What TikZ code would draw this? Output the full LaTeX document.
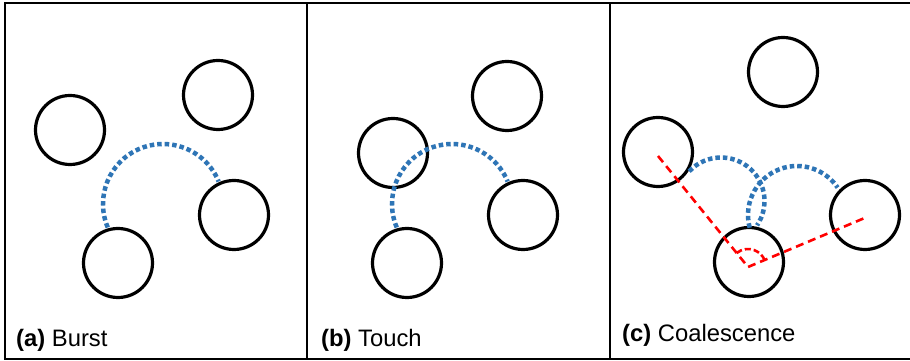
\documentclass[tikz,border=0pt]{standalone}
\usepackage{fontspec}
\setmainfont{Liberation Sans}
\definecolor{dotblue}{RGB}{46,117,182}
\definecolor{dashred}{RGB}{255,0,0}
\tikzset{
  bubble/.style={circle, draw=black, line width=3.2pt, minimum size=69pt, inner sep=0pt},
  bluedot/.style={draw=dotblue, line width=4.5pt, dash pattern=on 4.5pt off 3pt},
  reddash/.style={draw=dashred, line width=2.6pt, dash pattern=on 8pt off 5pt},
  anglemark/.style={draw=dashred, line width=2.6pt, dash pattern=on 6pt off 3pt},
  frameline/.style={draw=black, line width=2pt},
  caption/.style={anchor=base west, inner sep=0pt, font=\fontsize{23.8}{28}\selectfont}
}
\begin{document}
\begin{tikzpicture}[x=1pt, y=1pt]
\useasboundingbox (0,0) rectangle (910,361);
\fill[white] (0,0) rectangle (910,361);
% frame
\draw[frameline] (912,358) -- (5,358) -- (5,2) -- (912,2);
\draw[frameline] (307,358) -- (307,2);
\draw[frameline] (610,358) -- (610,2);

% panel (a)
\node[bubble] (a1) at (70,231) {};
\node[bubble] (a2) at (218,266) {};
\node[bubble] (a3) at (234,146) {};
\node[bubble] (a4) at (118,98) {};
\coordinate (ac) at (163,157);
\draw[bluedot] (ac) ++(203:60) arc[start angle=203, end angle=22, radius=60];
\node[caption] (la) at (16,14) {\textbf{(a)} Burst};

% panel (b)
\node[bubble] (b1) at (393,208) {};
\node[bubble] (b2) at (507,265) {};
\node[bubble] (b3) at (523,146) {};
\node[bubble] (b4) at (407,98) {};
\coordinate (bc) at (452,157);
\draw[bluedot] (bc) ++(203:60) arc[start angle=203, end angle=22, radius=60];
\node[caption] (lb) at (321,14) {\textbf{(b)} Touch};

% panel (c)
\node[bubble] (c1) at (783,289) {};
\node[bubble] (c2) at (658,209) {};
\node[bubble] (c3) at (865,146) {};
\node[bubble] (c4) at (749,99) {};
\coordinate (cc1) at (721,160);
\coordinate (cc2) at (797,146);
\draw[bluedot] (cc1) ++(137:43.5) arc[start angle=137, end angle=-34, radius=43.5];
\draw[bluedot] (cc2) ++(195:49) arc[start angle=195, end angle=34, radius=49];
\coordinate (p2) at (658,205);
\coordinate (pv) at (748,94);
\coordinate (p3) at (867,144);
\draw[reddash] (p2) -- (pv) -- (p3);
\draw[anglemark] (pv) ++(129:18) arc[start angle=129, end angle=23, radius=18];
\node[caption] (lc) at (622,19) {\textbf{(c)} Coalescence};
\end{tikzpicture}
\end{document}
